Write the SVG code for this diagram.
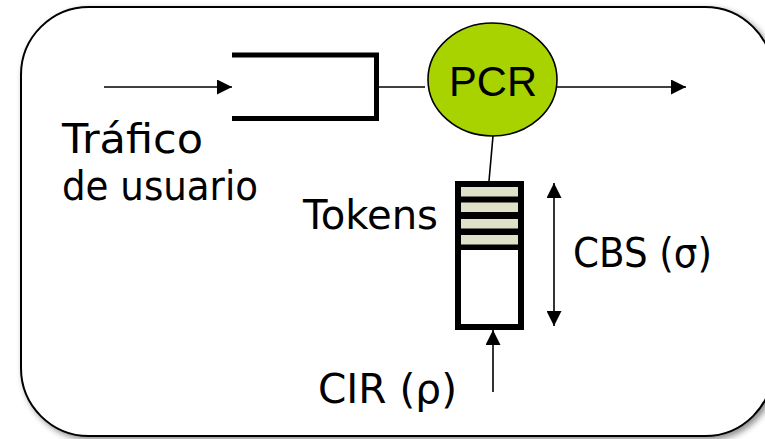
<svg xmlns="http://www.w3.org/2000/svg" width="765" height="439" viewBox="0 0 765 439">
<style>
.lbl{font-family:"DejaVu Sans","Liberation Sans",sans-serif;font-size:41px;fill:#000}
.pcr{font-family:"Liberation Sans",Arial,sans-serif;font-size:43px;fill:#000}
.ln{stroke:#000;stroke-width:1.6;fill:none}
.thick{stroke:#000;stroke-width:5;fill:none}
</style>
<defs>
<marker id="ah" viewBox="0 0 10 10" refX="10" refY="5" markerWidth="17" markerHeight="15" markerUnits="userSpaceOnUse" orient="auto-start-reverse">
<path d="M0,0 L10,5 L0,10 z" fill="#000"/>
</marker>
<filter id="sh" x="-5%" y="-5%" width="115%" height="115%">
<feDropShadow dx="3" dy="3" stdDeviation="3" flood-color="#000" flood-opacity="0.45"/>
</filter>
</defs>
<g id="frame">
<rect x="21" y="7" width="752" height="429" rx="68" ry="68" fill="#fff" stroke="#000" stroke-width="2" filter="url(#sh)"/>
</g>
<g id="queue">
<path class="thick" d="M232,55 H376.5 V118.5 H232"/>
</g>
<g id="pcr">
<ellipse cx="492.5" cy="79.5" rx="64.5" ry="56.5" fill="#a9d300" stroke="#000" stroke-width="1.6"/>
<text class="pcr" x="493" y="96" text-anchor="middle" textLength="88" lengthAdjust="spacingAndGlyphs">PCR</text>
</g>
<g id="bucket">
<rect x="458" y="184" width="63" height="66" fill="#000"/>
<rect x="461" y="187" width="58" height="9.5" fill="#dfe2c9"/>
<rect x="461" y="202.5" width="58" height="9.5" fill="#dfe2c9"/>
<rect x="461" y="219" width="58" height="9.5" fill="#dfe2c9"/>
<rect x="461" y="235" width="58" height="9.5" fill="#dfe2c9"/>
<rect x="458" y="184" width="63" height="143" fill="none" stroke="#000" stroke-width="6"/>
</g>
<g id="connectors">
<line class="ln" x1="104" y1="87" x2="232" y2="87" marker-end="url(#ah)"/>
<line class="ln" x1="379" y1="87" x2="425" y2="87"/>
<line class="ln" x1="557" y1="87" x2="686" y2="87" marker-end="url(#ah)"/>
<line class="ln" x1="493" y1="136" x2="489" y2="181"/>
<line class="ln" x1="554" y1="183" x2="554" y2="326" marker-start="url(#ah)" marker-end="url(#ah)"/>
<line class="ln" x1="493" y1="392" x2="493" y2="330" marker-end="url(#ah)"/>
</g>
<g id="labels">
<text class="lbl" x="62" y="153" textLength="141" lengthAdjust="spacingAndGlyphs">Tráfico</text>
<text class="lbl" x="62" y="200" textLength="196" lengthAdjust="spacingAndGlyphs">de usuario</text>
<text class="lbl" x="303" y="229" font-size="36" textLength="135" lengthAdjust="spacingAndGlyphs">Tokens</text>
<text class="lbl" x="573" y="267" textLength="139" lengthAdjust="spacingAndGlyphs">CBS (σ)</text>
<text class="lbl" x="318" y="403" textLength="139" lengthAdjust="spacingAndGlyphs">CIR (ρ)</text>
</g>
</svg>
